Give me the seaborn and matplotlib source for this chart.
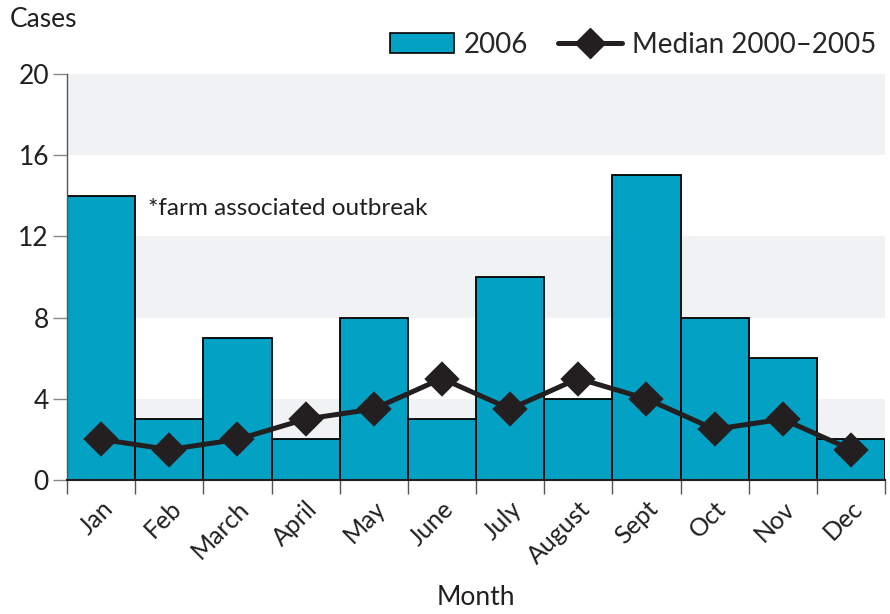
import matplotlib
matplotlib.use('Agg')
import matplotlib.pyplot as plt
from matplotlib.lines import Line2D
from matplotlib.patches import Patch
import numpy as np
import pandas as pd
import seaborn as sns

months = ['Jan', 'Feb', 'March', 'April', 'May', 'June', 'July', 'August',
          'Sept', 'Oct', 'Nov', 'Dec']
cases2006 = [14, 3, 7, 2, 8, 3, 10, 4, 15, 8, 6, 2]
median2000_2005 = [2, 1.5, 2, 3, 3.5, 5, 3.5, 5, 4, 2.5, 3, 1.5]
yticks = [0, 4, 8, 12, 16, 20]

barColor = '#03A1C3'
lineColor = '#231F20'
bandColor = '#F1F2F4'

sns.set_theme(style='white')
plt.rcParams['font.family'] = ['Lato', 'DejaVu Sans']

df = pd.DataFrame({'Month': months, 'Cases': cases2006, 'Median': median2000_2005})

fig = plt.figure(figsize=(8.9, 6.14), dpi=100)
ax = fig.add_axes([0.0753, 0.2182, 0.9191, 0.6613])

# alternating background bands
for lo in yticks[::2]:
    ax.axhspan(lo, lo + 4, color=bandColor, zorder=0, lw=0)

sns.barplot(data=df, x='Month', y='Cases', color=barColor, width=1.0,
            edgecolor='black', linewidth=1.3, saturation=1, ax=ax, zorder=2)
sns.pointplot(data=df, x='Month', y='Median', color=lineColor, markers='D',
              markersize=15, linewidth=3.6, ax=ax, zorder=3)

ax.set_xlim(-0.5, len(months) - 0.5)
ax.set_ylim(0, 20)
ax.set_yticks(yticks)
ax.tick_params(axis='y', which='major', left=True, length=10, width=1,
               color='#888888', labelsize=19, pad=3, labelcolor='#231F20')

ax.set_xticks(np.arange(len(months)))
ax.set_xticklabels(months, rotation=45, ha='right', rotation_mode='anchor')
ax.tick_params(axis='x', which='major', length=0, labelsize=18, pad=12,
               labelcolor='#231F20')
ax.set_xticks(np.arange(len(months) + 1) - 0.5, minor=True)
ax.tick_params(axis='x', which='minor', bottom=True, length=10, width=1,
               color='#555555')

ax.set_xlabel('Month', fontsize=19, color='#231F20', va='center')
ax.xaxis.set_label_coords(0.5, -0.29)
ax.set_ylabel('')

for side in ['top', 'right']:
    ax.spines[side].set_visible(False)
ax.spines['left'].set_color('#555555')
ax.spines['left'].set_linewidth(1)
ax.spines['bottom'].set_color('#231F20')
ax.spines['bottom'].set_linewidth(1.5)

ax.text(0.69, 13.35, '*farm associated outbreak', fontsize=17.5, va='center',
        ha='left', color='#231F20')
fig.text(0.011, 0.968, 'Cases', fontsize=19, va='center', ha='left', color='#231F20')

handles = [Patch(facecolor=barColor, edgecolor='black', linewidth=1.2),
           Line2D([], [], color=lineColor, lw=3.6, marker='D', markersize=15)]
fig.legend(handles, ['2006', 'Median 2000–2005'], loc='center right',
           bbox_to_anchor=(0.997, 0.927), ncol=2, frameon=False, fontsize=20,
           handlelength=2.3, handleheight=0.75, columnspacing=1.1,
           handletextpad=0.35, borderaxespad=0)

fig.savefig('out.png', dpi=100)
